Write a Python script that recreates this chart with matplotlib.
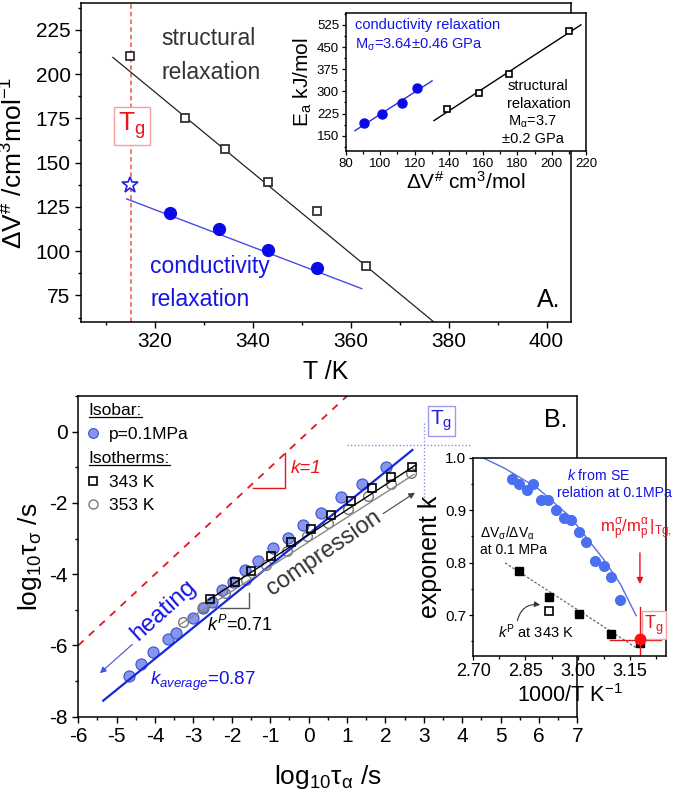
import numpy as np
import matplotlib
matplotlib.use("Agg")
import matplotlib.pyplot as plt
from matplotlib.lines import Line2D
from matplotlib.ticker import MultipleLocator, FormatStrFormatter

plt.rcParams['font.family'] = ['Liberation Sans', 'DejaVu Sans']
plt.rcParams['mathtext.fontset'] = 'custom'
plt.rcParams['mathtext.rm'] = 'Liberation Sans'
plt.rcParams['mathtext.it'] = 'Liberation Sans:italic'
plt.rcParams['mathtext.bf'] = 'Liberation Sans:bold'
plt.rcParams['axes.linewidth'] = 1.1

BLUE = '#1414e6'
RED = '#e8141e'
DARK = '#333333'

# ---------------- panel A: activation volume vs T
T_alpha = [315.0, 326.2, 334.3, 343.1, 353.2, 363.2]
dV_alpha = [210.2, 175.1, 157.6, 138.8, 122.9, 91.5]
T_sigma = [323.2, 333.2, 343.2, 353.2]
dV_sigma = [121.4, 112.6, 100.9, 90.4]
T_star = [315.1]
dV_star = [137.3]
fitA_alpha_T = [311.5, 377.0]
fitA_alpha_V = [209.4, 60.0]
fitA_sigma_T = [314.3, 362.3]
fitA_sigma_V = [129.5, 78.8]
T_g = 315.3

# inset A: activation energy vs activation volume
Ea_sigma = [310, 260, 223, 192]      # matches dV_sigma order
Ea_alpha = [505, 360, 293, 240]      # matches dV_alpha[:4]
fitE_sigma_V = [85.2, 130.2]
fitE_sigma_E = [167, 335.5]
fitE_alpha_V = [131.3, 217.0]
fitE_alpha_E = [201, 525]

# ---------------- panel B: log tau_sigma vs log tau_alpha
isobar_x = [-4.683, -4.371, -4.042, -3.662, -3.444, -3.013, -2.743, -2.519, -2.26, -1.974,
            -1.662, -1.314, -0.935, -0.545, -0.138, 0.33, 0.842, 1.403, 2.01]
isobar_y = [-6.847, -6.518, -6.188, -5.806, -5.654, -5.232, -4.942, -4.774, -4.456, -4.22,
            -3.893, -3.64, -3.263, -2.982, -2.608, -2.279, -1.829, -1.463, -0.996]
iso343_x = [-2.561, -1.93, -1.496, -0.977, -0.449, 0.062, 0.582, 1.101, 1.647, 2.156, 2.701]
iso343_y = [-4.689, -4.22, -3.902, -3.5, -3.094, -2.72, -2.326, -1.952, -1.575, -1.286, -1.004]
iso353_x = [-3.273, -2.753, -2.19, -1.644, -1.106, -0.571, -0.042, 0.494, 1.013, 1.558, 2.14, 2.675]
iso353_y = [-5.356, -4.934, -4.529, -4.155, -3.733, -3.339, -2.937, -2.56, -2.166, -1.812, -1.463, -1.173]
fitB_isobar_x = [-5.351, 2.701]
fitB_isobar_y = [-7.55, -0.517]
fitB_343_x = [-2.6, 2.8]
fitB_343_y = [-4.72, -0.93]
fitB_353_x = [-3.36, 2.745]
fitB_353_y = [-5.42, -1.2]
unity_x = [-6.0, 1.0]
unity_y = [-6.0, 1.0]

# inset B: exponent k vs 1000/T
kSE_x = [2.8125, 2.8327, 2.854, 2.873, 2.894, 2.916, 2.9385, 2.9596, 2.981, 3.003,
         3.025, 3.051, 3.075, 3.097, 3.123]
kSE_y = [0.959, 0.9495, 0.9394, 0.9495, 0.919, 0.919, 0.9, 0.8853, 0.881, 0.8587,
         0.8397, 0.8029, 0.7939, 0.773, 0.7286]
kSE_curve_x = [2.727, 2.787, 2.883, 2.979, 3.075, 3.123, 3.168]
kSE_curve_y = [1.000, 0.981, 0.943, 0.887, 0.806, 0.759, 0.699]
kdv_x = [2.8327, 2.918, 3.005, 3.097, 3.179]
kdv_y = [0.7844, 0.7337, 0.7019, 0.6632, 0.6472]
kP_x = [2.918]
kP_y = [0.7082]
kdv_line_x = [2.7914, 3.171]
kdv_line_y = [0.7996, 0.6366]
kTg_x = [3.179]
kTg_y = [0.6537]

fig = plt.figure(figsize=(6.75, 7.95), dpi=100)

# ================= panel A
axA = fig.add_axes([0.12, 0.595, 0.726, 0.401])
axA.plot(fitA_alpha_T, fitA_alpha_V, color='#222222', lw=0.9, zorder=2)
axA.plot(T_alpha, dV_alpha, ls='none', marker='s', ms=6, mfc='white', mec='#333333', mew=1.3, zorder=3)
axA.plot(fitA_sigma_T, fitA_sigma_V, color='#4a4ae8', lw=1.0, zorder=2)
axA.plot(T_sigma, dV_sigma, ls='none', marker='o', ms=8.5, color='#0a0ae8', zorder=3)
axA.plot(T_star, dV_star, ls='none', marker='*', ms=12, mfc='white', mec='#2222e0', mew=1.2, zorder=3)
axA.axvline(T_g, color='#f05050', lw=1.1, ls=(0, (3, 2)), zorder=1)
axA.text(315.4, 170.7, r'T$_\mathregular{g}$', color=RED, fontsize=19, ha='center', va='center',
         bbox=dict(boxstyle='square,pad=0.15', fc='white', ec='#f4a0a0', lw=1.0), zorder=4)
axA.text(321.5, 220.3, 'structural', color=DARK, fontsize=16.5, va='center')
axA.text(321.5, 200.6, 'relaxation', color=DARK, fontsize=16.5, va='center')
axA.text(319.1, 91.4, 'conductivity', color=BLUE, fontsize=16.5, va='center')
axA.text(319.1, 72.8, 'relaxation', color=BLUE, fontsize=16.5, va='center')
axA.text(0.978, 0.069, 'A.', transform=axA.transAxes, fontsize=18, ha='right', va='center')

axA.set_xlim(305, 405)
axA.set_ylim(60, 240)
axA.xaxis.set_major_locator(MultipleLocator(20))
axA.xaxis.set_minor_locator(MultipleLocator(10))
axA.yaxis.set_major_locator(MultipleLocator(25))
axA.yaxis.set_minor_locator(MultipleLocator(12.5))
axA.tick_params(which='both', direction='out', labelsize=15, width=1.0)
axA.tick_params(which='major', length=4)
axA.tick_params(which='minor', length=2.5)
axA.set_xlabel('T /K', fontsize=18, labelpad=6)
axA.set_ylabel(r'ΔV$^\mathregular{\#}$ /cm$^\mathregular{3}$mol$^\mathregular{-1}$', fontsize=19, labelpad=6)

# inset A
insA = fig.add_axes([0.5126, 0.810, 0.3556, 0.1736])
insA.plot(fitE_sigma_V, fitE_sigma_E, color='#2a2ae6', lw=1.0)
insA.plot(dV_sigma, Ea_sigma, ls='none', marker='o', ms=6.5, color='#0a0ae8')
insA.plot(fitE_alpha_V, fitE_alpha_E, color='black', lw=1.0)
insA.plot(dV_alpha[:4], Ea_alpha, ls='none', marker='s', ms=5, mfc='white', mec='black', mew=1.2)
insA.text(85.2, 524, 'conductivity relaxation', color=BLUE, fontsize=10.5, va='center')
insA.text(85.2, 457, r'M$_\mathregular{σ}$=3.64±0.46 GPa', color=BLUE, fontsize=10.5, va='center')
insA.text(174, 319, 'structural', fontsize=10.5, va='center')
insA.text(174, 258, 'relaxation', fontsize=10.5, va='center')
insA.text(174.4, 198, r'M$_\mathregular{α}$=3.7', fontsize=10.5, va='center')
insA.text(171, 138, '±0.2 GPa', fontsize=10.5, va='center')
insA.set_xlim(80, 220)
insA.set_ylim(98, 565)
insA.xaxis.set_major_locator(MultipleLocator(20))
insA.xaxis.set_minor_locator(MultipleLocator(10))
insA.yaxis.set_major_locator(MultipleLocator(75))
insA.yaxis.set_minor_locator(MultipleLocator(37.5))
insA.tick_params(which='both', direction='out', labelsize=9.5, width=0.9, pad=2)
insA.tick_params(which='major', length=3)
insA.tick_params(which='minor', length=1.8)
insA.set_xlabel(r'ΔV$^\mathregular{\#}$ cm$^\mathregular{3}$/mol', fontsize=15, labelpad=1)
insA.set_ylabel(r'E$_\mathregular{a}$ kJ/mol', fontsize=15, labelpad=2)

# ================= panel B
axB = fig.add_axes([0.116, 0.0985, 0.7393, 0.4034])
axB.plot(unity_x, unity_y, color=RED, lw=1.3, ls=(0, (4, 4)), zorder=1)
axB.plot(isobar_x, isobar_y, ls='none', marker='o', ms=8, mfc='#8696ea', mec='#3a4fd8', mew=0.8, zorder=2)
axB.plot(fitB_isobar_x, fitB_isobar_y, color='#1428d8', lw=1.6, zorder=3)
axB.plot(iso353_x, iso353_y, ls='none', marker='o', ms=7, mfc='none', mec='#777777', mew=1.0, zorder=2)
axB.plot(fitB_353_x, fitB_353_y, color='#888888', lw=1.0, zorder=3)
axB.plot(iso343_x, iso343_y, ls='none', marker='s', ms=6, mfc='none', mec='black', mew=1.2, zorder=3)
axB.plot(fitB_343_x, fitB_343_y, color='black', lw=1.0, zorder=3)

# slope triangles
axB.plot([-1.436, -0.605, -0.605], [-1.575, -1.575, -0.61], color=RED, lw=1.0)
axB.plot([-2.32, -1.558, -1.558], [-4.962, -4.962, -4.529], color='#555555', lw=1.0)
axB.text(-0.475, -1.04, 'k=1', color=RED, fontsize=13.5, style='italic', va='center')
axB.text(-2.64, -5.42, r'$k^P$=0.71', fontsize=13, va='center')
axB.text(-4.14, -7.015, r'$k_{average}$=0.87', color=BLUE, fontsize=13.5, va='center')

axB.text(-3.77, -5.0, 'heating', color=BLUE, fontsize=17.5, rotation=42,
         ha='center', va='center', rotation_mode='anchor')
axB.annotate('', xy=(-5.49, -6.83), xytext=(-4.54, -5.92),
             arrowprops=dict(arrowstyle='-|>', color='#4050e0', lw=0.8, mutation_scale=9))
axB.text(0.41, -3.40, 'compression', color=DARK, fontsize=17, rotation=34.5,
         ha='center', va='center', rotation_mode='anchor')
axB.annotate('', xy=(2.83, -1.67), xytext=(1.88, -2.346),
             arrowprops=dict(arrowstyle='-|>', color='#444444', lw=0.8, mutation_scale=9))

# Tg marker lines
axB.plot([1.01, 4.25], [-0.385, -0.385], color='#8c8ce8', lw=1.0, ls=(0, (1, 1.5)))
axB.plot([3.0, 3.0], [0.25, -2.09], color='#8c8ce8', lw=1.0, ls=(0, (1, 1.5)))
axB.text(3.455, 0.298, r'T$_\mathregular{g}$', color='#2020e0', fontsize=15, ha='center', va='center',
         bbox=dict(boxstyle='square,pad=0.12', fc='white', ec='#9a9aee', lw=1.0))
axB.text(0.981, 0.925, 'B.', transform=axB.transAxes, fontsize=18, ha='right', va='center')

axB.set_xlim(-6, 7)
axB.set_ylim(-8, 1)
axB.xaxis.set_major_locator(MultipleLocator(1))
axB.xaxis.set_minor_locator(MultipleLocator(0.5))
axB.yaxis.set_major_locator(MultipleLocator(2))
axB.yaxis.set_minor_locator(MultipleLocator(1))
axB.tick_params(which='both', direction='out', labelsize=15, width=1.0)
axB.tick_params(which='major', length=4)
axB.tick_params(which='minor', length=2.5)
axB.xaxis.set_major_formatter(FormatStrFormatter('%d'))
axB.yaxis.set_major_formatter(FormatStrFormatter('%d'))
axB.set_xlabel(r'log$_\mathregular{10}$τ$_\mathregular{α}$ /s', fontsize=19, labelpad=12)
axB.set_ylabel(r'log$_\mathregular{10}$τ$_\mathregular{σ}$ /s', fontsize=19, labelpad=4)

handles = [
    Line2D([], [], ls='none'),
    Line2D([], [], ls='none', marker='o', ms=7, mfc='#8696ea', mec='#3a4fd8', mew=0.8),
    Line2D([], [], ls='none'),
    Line2D([], [], ls='none', marker='s', ms=5.5, mfc='none', mec='black', mew=1.2),
    Line2D([], [], ls='none', marker='o', ms=6.5, mfc='none', mec='#777777', mew=1.0),
]
labels = ['Isobar:', 'p=0.1MPa', 'Isotherms:', '343 K', '353 K']
leg = axB.legend(handles, labels, loc='upper left', bbox_to_anchor=(0.0, 1.0), frameon=False,
                 fontsize=12.5, handlelength=0.9, handletextpad=0.45, labelspacing=0.5,
                 borderaxespad=0.3, borderpad=0.1)
header_texts = [leg.get_texts()[0], leg.get_texts()[2]]
for t in header_texts:
    t.set_position((-20, 0))

# inset B
insB = fig.add_axes([0.7012, 0.1748, 0.2855, 0.2494])
insB.set_zorder(5)
insB.plot(kSE_curve_x, kSE_curve_y, color='#5a6ee0', lw=1.0)
insB.plot(kSE_x, kSE_y, ls='none', marker='o', ms=7, color='#4a6ff0')
insB.plot(kdv_line_x, kdv_line_y, color='#666666', lw=0.9, ls=(0, (2, 1.5)))
insB.plot(kdv_x, kdv_y, ls='none', marker='s', ms=6, color='black')
insB.plot(kP_x, kP_y, ls='none', marker='s', ms=5.5, mfc='white', mec='black', mew=1.2)
insB.plot([3.179, 3.179], [0.716, 0.622], color=RED, lw=1.0)
insB.plot([3.092, 3.24], [0.652, 0.652], color=RED, lw=1.0)
insB.plot(kTg_x, kTg_y, ls='none', marker='o', ms=7.5, color='#ff1010', zorder=5)
insB.annotate('', xy=(3.179, 0.754), xytext=(3.179, 0.824),
              arrowprops=dict(arrowstyle='-|>', color=RED, lw=1.0, mutation_scale=9))
insB.annotate('', xy=(2.9, 0.719), xytext=(2.825, 0.684),
              arrowprops=dict(arrowstyle='-|>', color='#333333', lw=0.8, mutation_scale=8,
                              connectionstyle='arc3,rad=-0.5'))
insB.text(2.969, 0.967, r'$k$ from SE', color=BLUE, fontsize=10.2, va='center')
insB.text(2.942, 0.932, 'relation at 0.1MPa', color=BLUE, fontsize=10.2, va='center')
insB.text(2.719, 0.856, r'ΔV$_\mathregular{σ}$/ΔV$_\mathregular{α}$', fontsize=10, va='center')
insB.text(2.719, 0.824, 'at 0.1 MPa', fontsize=10, va='center')
insB.text(2.772, 0.668, r'$k^\mathregular{P}$ at 343 K', fontsize=10.5, va='center')
insB.text(3.065, 0.862, r'$\mathregular{m_p^σ/m_p^α\,|_{Tg,}}$', color=RED, fontsize=12, va='center',
          clip_on=False)
insB.text(3.219, 0.681, r'T$_\mathregular{g}$', color=RED, fontsize=13, ha='center', va='center',
          bbox=dict(boxstyle='square,pad=0.12', fc='white', ec='#f4a0a0', lw=1.0))
insB.set_xlim(2.70, 3.254)
insB.set_ylim(0.622, 1.0)
insB.xaxis.set_major_locator(MultipleLocator(0.15))
insB.xaxis.set_minor_locator(MultipleLocator(0.075))
insB.yaxis.set_major_locator(MultipleLocator(0.1))
insB.yaxis.set_minor_locator(MultipleLocator(0.05))
insB.xaxis.set_major_formatter(FormatStrFormatter('%.2f'))
insB.yaxis.set_major_formatter(FormatStrFormatter('%.1f'))
insB.tick_params(which='both', direction='out', width=0.9, pad=2)
insB.tick_params(axis='x', labelsize=13)
insB.tick_params(axis='y', labelsize=11)
insB.tick_params(which='major', length=3)
insB.tick_params(which='minor', length=1.8)
insB.set_xlabel(r'1000/T K$^\mathregular{-1}$', fontsize=15.5, labelpad=3)
insB.set_ylabel('exponent k', fontsize=18, labelpad=2)

# underline the legend headers
fig.canvas.draw()
inv = fig.transFigure.inverted()
for t in header_texts:
    bb = t.get_window_extent()
    (x0, y0), (x1, _) = inv.transform([(bb.x0, bb.y0 + 1), (bb.x1, bb.y0)])
    fig.add_artist(Line2D([x0, x1], [y0, y0], transform=fig.transFigure, color='black', lw=0.9))

fig.savefig('out.png', dpi=100)
